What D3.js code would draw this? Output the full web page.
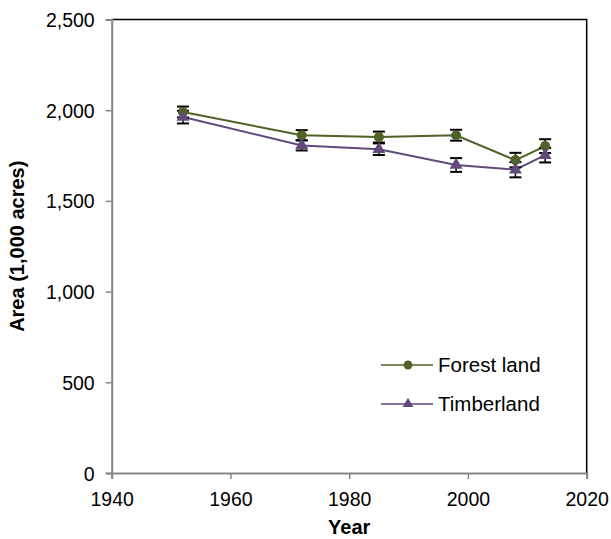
<!DOCTYPE html>
<html>
<head>
<meta charset="utf-8">
<script src="https://cdn.jsdelivr.net/npm/d3@7"></script>
<style>
  body { margin: 0; background: #fff; }
  svg { display: block; }
</style>
</head>
<body>
<div id="chart"></div>
<script>
// data
const years = [1952, 1972, 1985, 1998, 2008, 2013];
const forestLand = [1990, 1862, 1852, 1862, 1725, 1802];
const forestErr = [30, 28, 30, 30, 40, 38];
const timberland = [1962, 1806, 1785, 1698, 1672, 1752];
const timberErr = [35, 28, 32, 38, 42, 40];
const xTicks = [1940, 1960, 1980, 2000, 2020];
const yTicks = [0, 500, 1000, 1500, 2000, 2500];
const seriesNames = ["Forest land", "Timberland"];

const width = 611, height = 539;
const margin = { top: 19.5, right: 24.3, bottom: 66, left: 111.7 };
const w = width - margin.left - margin.right;
const h = height - margin.top - margin.bottom;
const font = "Liberation Sans, Arial, sans-serif";
const tickFs = 19.5, titleFs = 20, legendFs = 20.5;

const series = [
  { name: seriesNames[0], values: forestLand, err: forestErr, color: "#4f6228", shape: d3.symbolCircle, size: 80, lsize: 62 },
  { name: seriesNames[1], values: timberland, err: timberErr, color: "#604a7b", shape: d3.symbolTriangle, size: 72, lsize: 50 }
];

const svg = d3.select("#chart").append("svg")
  .attr("width", width)
  .attr("height", height)
  .attr("font-family", font);

const g = svg.append("g").attr("transform", `translate(${margin.left},${margin.top})`);

const x = d3.scaleLinear().domain([1940, 2020]).range([0, w]);
const y = d3.scaleLinear().domain([0, 2500]).range([h, 0]);

// top and right border
g.append("path")
  .attr("d", `M0,0H${w}V${h}`)
  .attr("fill", "none")
  .attr("stroke", "#000")
  .attr("stroke-width", 1.5);

const xAxis = g.append("g")
  .attr("transform", `translate(0,${h})`)
  .call(d3.axisBottom(x).tickValues(xTicks).tickFormat(d3.format("d")).tickSizeOuter(0).tickSize(6));

const yAxis = g.append("g")
  .call(d3.axisLeft(y).tickValues(yTicks).tickFormat(d3.format(",")).tickSizeOuter(0).tickSize(6).tickPadding(11));

[xAxis, yAxis].forEach(a => {
  a.select(".domain").attr("stroke", "#868686").attr("stroke-width", 2);
  a.selectAll(".tick line").attr("stroke", "#868686").attr("stroke-width", 1.5);
  a.selectAll(".tick text").attr("fill", "#000").attr("font-size", tickFs).attr("font-family", font);
});
xAxis.selectAll(".tick text").attr("y", 33).attr("dy", 0);
yAxis.selectAll(".tick text").attr("dy", "0.36em");

// axis titles
svg.append("text")
  .attr("x", margin.left + w / 2)
  .attr("y", 534)
  .attr("text-anchor", "middle")
  .attr("font-size", titleFs)
  .attr("font-weight", "bold")
  .text("Year");

svg.append("text")
  .attr("transform", `translate(24,${margin.top + h / 2}) rotate(-90)`)
  .attr("text-anchor", "middle")
  .attr("font-size", titleFs)
  .attr("font-weight", "bold")
  .text("Area (1,000 acres)");

const line = d3.line().x(d => x(d[0])).y(d => y(d[1]));

series.forEach(s => {
  const pts = years.map((yr, i) => [yr, s.values[i], s.err[i]]);
  g.append("path")
    .datum(pts)
    .attr("fill", "none")
    .attr("stroke", s.color)
    .attr("stroke-width", 2)
    .attr("d", line);
});

// error bars
series.forEach(s => {
  const pts = years.map((yr, i) => [yr, s.values[i], s.err[i]]);
  const eb = g.append("g").selectAll("g").data(pts).join("g");
  eb.append("line")
    .attr("x1", d => x(d[0])).attr("x2", d => x(d[0]))
    .attr("y1", d => y(d[1] - d[2])).attr("y2", d => y(d[1] + d[2]))
    .attr("stroke", "#000").attr("stroke-width", 1.5);
  [-1, 1].forEach(sign => {
    eb.append("line")
      .attr("x1", d => x(d[0]) - 6).attr("x2", d => x(d[0]) + 6)
      .attr("y1", d => y(d[1] + sign * d[2])).attr("y2", d => y(d[1] + sign * d[2]))
      .attr("stroke", "#000").attr("stroke-width", 2);
  });
});

// markers
series.forEach(s => {
  const pts = years.map((yr, i) => [yr, s.values[i]]);
  g.append("g").selectAll("path").data(pts).join("path")
    .attr("transform", d => `translate(${x(d[0])},${y(d[1])})`)
    .attr("d", d3.symbol().type(s.shape).size(s.size))
    .attr("fill", s.color);
});

// legend
const legend = svg.append("g").attr("transform", "translate(381,365)");
series.forEach((s, i) => {
  const row = legend.append("g").attr("transform", `translate(0,${i * 39})`);
  row.append("line").attr("x1", 0).attr("x2", 52).attr("y1", 0).attr("y2", 0)
    .attr("stroke", s.color).attr("stroke-width", 1.5);
  row.append("path").attr("transform", "translate(27,0)")
    .attr("d", d3.symbol().type(s.shape).size(s.lsize))
    .attr("fill", s.color);
  row.append("text").attr("x", 57).attr("y", 0).attr("dy", "0.36em")
    .attr("font-size", legendFs).text(s.name);
});
</script>
</body>
</html>
